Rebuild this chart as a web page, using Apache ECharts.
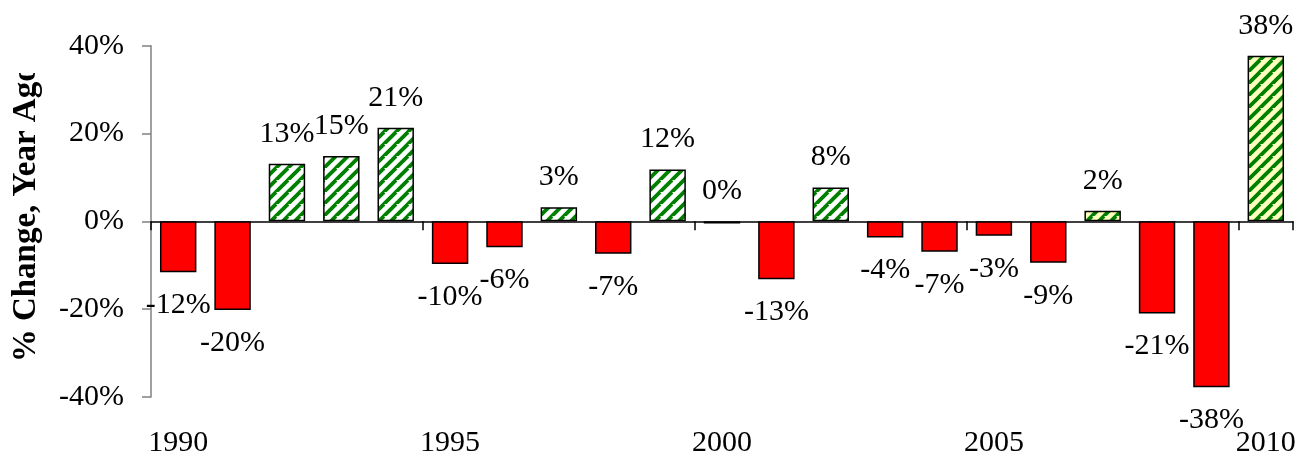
<!DOCTYPE html>
<html>
<head>
<meta charset="utf-8">
<script src="https://cdn.jsdelivr.net/npm/echarts@6/dist/echarts.min.js"></script>
<style>
  html, body { margin: 0; padding: 0; background: #fff; }
  #chart { width: 1299px; height: 458px; }
</style>
</head>
<body>
<div id="chart"></div>
<script>
// data
const years = ['1990', '1991', '1992', '1993', '1994', '1995', '1996', '1997', '1998', '1999', '2000',
  '2001', '2002', '2003', '2004', '2005', '2006', '2007', '2008', '2009', '2010']
const changes = [-11.6, -20.2, 13.1, 14.9, 21.3, -9.7, -5.9, 3.2, -7.4, 11.8, -0.5,
  -13.2, 7.7, -3.7, -6.9, -3.3, -9.4, 2.4, -21.0, -37.8, 37.7]
const yTicks = [-40, -20, 0, 20, 40]
const yTitle = '% Change, Year Ago'

const FONT = "'Liberation Serif', 'Times New Roman', serif"
const lightYears = ['2007', '2010']

// diagonal stripe pattern
function stripes (bg) {
  const size = 12
  const c = document.createElement('canvas')
  c.width = size
  c.height = size
  const ctx = c.getContext('2d')
  ctx.fillStyle = bg
  ctx.fillRect(0, 0, size, size)
  ctx.strokeStyle = '#008000'
  ctx.lineWidth = 3.8
  for (let k = -1; k <= 3; k++) {
    const o = k * size
    ctx.beginPath()
    ctx.moveTo(o - size, 2 * size)
    ctx.lineTo(o + size, 0)
    ctx.stroke()
  }
  return { image: c, repeat: 'repeat' }
}
const whiteStripes = stripes('#ffffff')
const yellowStripes = stripes('#ffffc0')

const chart = echarts.init(document.getElementById('chart'))

const barData = changes.map((v, i) => {
  const up = v >= -0.5
  return {
    value: v,
    itemStyle: {
      color: v < 0 ? '#ff0000' : (lightYears.includes(years[i]) ? yellowStripes : whiteStripes)
    },
    label: {
      position: up ? 'top' : 'bottom',
      distance: up ? 15 : 18
    }
  }
})

const option = {
  animation: false,
  backgroundColor: '#fff',
  textStyle: { fontFamily: FONT },
  grid: { left: 151, right: 6, top: 45.7, bottom: 60.7 },
  xAxis: [
    {
      type: 'category',
      data: years,
      axisLine: { onZero: true, lineStyle: { color: '#000', width: 1.5 } },
      axisTick: { show: true, interval: i => i % 5 === 0, length: 9, lineStyle: { color: '#000', width: 1.5 } },
      axisLabel: { show: false },
      splitLine: { show: false }
    },
    {
      type: 'category',
      data: years,
      position: 'bottom',
      axisLine: { show: false, onZero: false },
      axisTick: { show: false },
      axisLabel: { interval: 4, margin: 31, fontSize: 30, color: '#000', fontFamily: FONT },
      splitLine: { show: false }
    }
  ],
  yAxis: {
    type: 'value',
    min: yTicks[0],
    max: yTicks[yTicks.length - 1],
    interval: 20,
    name: yTitle,
    nameLocation: 'middle',
    nameRotate: 90,
    nameGap: 108,
    nameTextStyle: { fontSize: 33, fontWeight: 'bold', color: '#000', fontFamily: FONT, padding: [0, 0, 0, 15] },
    axisLine: { show: true, lineStyle: { color: '#808080', width: 1.5 } },
    axisTick: { show: true, length: 9, lineStyle: { color: '#808080', width: 1.5 } },
    axisLabel: { formatter: v => v + '%', fontSize: 30, color: '#000', margin: 27, fontFamily: FONT },
    splitLine: { show: false }
  },
  graphic: [
    // the axis title is cut off at the top in the original
    { type: 'rect', left: 0, top: 0, z: 100, shape: { width: 60, height: 73 }, style: { fill: '#fff' } }
  ],
  series: [{
    type: 'bar',
    xAxisIndex: 0,
    barWidth: '67%',
    data: barData,
    itemStyle: { borderColor: '#000', borderWidth: 1.5 },
    label: {
      show: true,
      fontSize: 30,
      color: '#000',
      fontFamily: FONT,
      formatter: p => Math.round(p.value) + '%'
    }
  }]
}

chart.setOption(option)
</script>
</body>
</html>
